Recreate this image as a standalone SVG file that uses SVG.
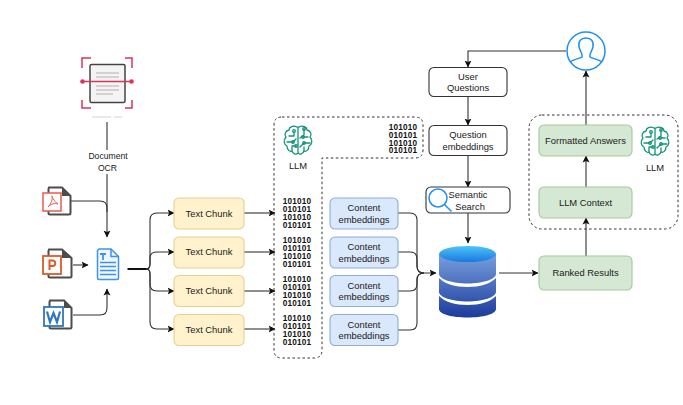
<svg xmlns="http://www.w3.org/2000/svg" width="683" height="405" viewBox="0 0 683 405">
<style>
text{font-family:"Liberation Sans",Arial,sans-serif;font-size:9.4px;fill:#1a1a1a;text-anchor:middle}
.small{font-size:8.600px}
.bin{font-size:8.200px;font-weight:bold;letter-spacing:.2px;fill:#111}
.box{rx:5px;ry:5px;stroke-width:1.1}
.chunk{fill:#fff2cc;stroke:#e8cf8e}
.emb{fill:#dae8fc;stroke:#8faed6}
.green{fill:#d5e8d4;stroke:#a5c99a}
.plain{fill:#fff;stroke:#333}
.c{fill:none;stroke:#333;stroke-width:1.1}
.dash{fill:none;stroke:#333;stroke-width:1;stroke-dasharray:2.5 2.5}
.brain{fill:none;stroke:#12937a;stroke-width:1.300;stroke-linejoin:round;stroke-linecap:round}
.sheet{fill:#fff;stroke:#4d4d4d;stroke-width:2}
</style>
<defs>
<marker id="a" markerWidth="8" markerHeight="8" refX="6.500" refY="4" orient="auto" markerUnits="userSpaceOnUse"><path d="M0 .5L7 4L0 7.500L1.600 4Z" fill="#111"/></marker>
<linearGradient id="dbTop" x1="0" y1="0" x2="0" y2="1"><stop offset="0" stop-color="#4cc4f7"/><stop offset="1" stop-color="#1a78e0"/></linearGradient>
<linearGradient id="dbBody" gradientUnits="userSpaceOnUse" x1="0" y1="250" x2="0" y2="318"><stop offset="0" stop-color="#7ea6e2"/><stop offset="1" stop-color="#1b3a9c"/></linearGradient>
<g id="brainIcon">
<path class="brain" d="M14 2C10 0 6 2 6 5C2 6 1 10 3 12C0 15 1 20 4 21C4 25 7 27 9 26C10 29 13 30 15 28V2M16 2C20 0 24 2 24 5C28 6 29 10 27 12C30 15 29 20 26 21C26 25 23 27 21 26C20 29 17 30 15 28"/>
<path class="brain" d="M6 11H11V7M4 17H10L13 14M9 26V21H13M21 4V10L17 13M25 12H20M27 18H21L17 22M21 26V22"/>
<g class="brain"><circle cx="11" cy="6" r="1.300"/><circle cx="10" cy="17" r="1.300"/><circle cx="13" cy="21" r="1.300"/><circle cx="21" cy="4" r="1.300"/><circle cx="20" cy="12" r="1.300"/><circle cx="21" cy="18" r="1.300"/></g>
</g>
</defs>

<g id="connectors">
<path class="c" d="M107 122V151M107 173V237" marker-end="url(#a)"/>
<path class="c" d="M71 201H100Q107 201 107 208V212"/>
<path class="c" d="M73 265H88" marker-end="url(#a)"/>
<path class="c" d="M73 315H100Q107 315 107 308V289" marker-end="url(#a)"/>
<path d="M127.500 269H147" fill="none" stroke="#111" stroke-width="2"/>
<path class="c" d="M146 269Q150 269 150 264V220Q150 213 157 213H174" marker-end="url(#a)"/>
<path class="c" d="M146 269Q150 269 150 264V258Q150 252 157 252H174" marker-end="url(#a)"/>
<path class="c" d="M146 269Q150 269 150 274V284Q150 291 157 291H174" marker-end="url(#a)"/>
<path class="c" d="M146 269Q150 269 150 274V322Q150 329 157 329H174" marker-end="url(#a)"/>
<path class="c" d="M244 213H275" marker-end="url(#a)"/>
<path class="c" d="M244 252H275" marker-end="url(#a)"/>
<path class="c" d="M244 291H275" marker-end="url(#a)"/>
<path class="c" d="M244 329H275" marker-end="url(#a)"/>
<path class="c" d="M398 213H410Q417 213 417 220V266Q417 273 424 273H436" marker-end="url(#a)"/>
<path class="c" d="M398 252H410Q417 252 417 259V266Q417 273 424 273"/>
<path class="c" d="M398 291H410Q417 291 417 284V280Q417 273 424 273"/>
<path class="c" d="M398 330H410Q417 330 417 323V280Q417 273 424 273"/>
<path class="c" d="M499 273H538" marker-end="url(#a)"/>
<path class="c" d="M566 51H468V67" marker-end="url(#a)"/>
<path class="c" d="M468 96V125" marker-end="url(#a)"/>
<path class="c" d="M468 155V187" marker-end="url(#a)"/>
<path class="c" d="M468 213V243" marker-end="url(#a)"/>
<path class="c" d="M586 256V218" marker-end="url(#a)"/>
<path class="c" d="M586 187V156" marker-end="url(#a)"/>
<path class="c" d="M586 125V71" marker-end="url(#a)"/>
</g>

<g id="ocr">
<path d="M82 68V58H91M125 58H132V68M82 100V108H91M125 108H132V100" fill="none" stroke="#d9355c" stroke-width="1.500"/>
<rect x="90" y="64.500" width="35" height="38" rx="1.500" fill="#f4f4f4" stroke="#444" stroke-width="1.500"/>
<path d="M96 73H119M96 77H119M96 86H119M96 90H119M96 94H113" stroke="#c6c6c6" stroke-width="1.500" fill="none"/>
<path d="M83 81.500H132" stroke="#d9355c" stroke-width="1.500"/>
<circle cx="82.500" cy="81.500" r="2.300" fill="#d9355c"/><circle cx="131.500" cy="81.500" r="2.300" fill="#d9355c"/>
<path d="M92 117H111M114 117H122" stroke="#e2e2e2" stroke-width="1.500"/>
<rect x="84" y="150" width="46" height="24" fill="#fff"/>
<text class="small" x="108" y="159">Document</text><text class="small" x="107.500" y="170.500">OCR</text>
</g>

<g id="pdf">
<path class="sheet" d="M49 187.500H62L70.500 196V213A1.500 1.500 0 0 1 69 214.500H50A1.500 1.500 0 0 1 48.500 213V189Z"/>
<path d="M62 187.500L70.500 196H62Z" fill="#4d4d4d"/>
<rect x="43" y="193" width="18" height="18" fill="#fff" stroke="#ea5a4e" stroke-width="1.500"/>
<path d="M48 207C51 204 53 199 52 196C51 195 55 203 58 204C55 203 50 204 48 207Z" fill="none" stroke="#ea5a4e" stroke-width="1"/>
</g>
<g id="ppt">
<path class="sheet" d="M49 249.500H62L71.500 258V276A1.500 1.500 0 0 1 70 277.500H50A1.500 1.500 0 0 1 48.500 276V251Z"/>
<path d="M62 249.500L71.500 258H62Z" fill="#4d4d4d"/>
<rect x="43" y="256" width="18" height="18" fill="#fff" stroke="#dd5a2b" stroke-width="1.800"/>
<path d="M49.500 270V260.500H53A2.800 2.800 0 0 1 53 266H49.500" fill="none" stroke="#dd5a2b" stroke-width="2"/>
</g>
<g id="word">
<path class="sheet" d="M50 300.500H64L71.500 308V327A1.500 1.500 0 0 1 70 328.500H51A1.500 1.500 0 0 1 49.500 327V302Z"/>
<path d="M64 300.500L71.500 308H64Z" fill="#4d4d4d"/>
<rect x="44" y="307" width="19" height="19" fill="#fff" stroke="#2f78bd" stroke-width="1.800"/>
<path d="M47 311.500L50 322L53.500 313L57 322L60 311.500" fill="none" stroke="#2f78bd" stroke-width="2.200"/>
</g>
<g id="document">
<path d="M99 249H111L118.500 256.500V278A1.500 1.500 0 0 1 117 279.500H99A1.500 1.500 0 0 1 97.500 278V250.500Z" fill="#f1f7ff" stroke="#3f93f0" stroke-width="1.500"/>
<path d="M111 249V256.500H118.500" fill="none" stroke="#3f93f0" stroke-width="1.500"/>
<path d="M100 254H106M103 254V260" fill="none" stroke="#3f93f0" stroke-width="1.800"/>
<path d="M100 262.500H116M100 266.500H116M100 270.500H116M100 274.500H116" fill="none" stroke="#3f93f0" stroke-width="1.500"/>
</g>

<g id="chunk1"><rect class="box chunk" x="174" y="198" width="70" height="31"/><text x="209" y="216.500">Text Chunk</text></g>
<g id="chunk2"><rect class="box chunk" x="174" y="237" width="70" height="31"/><text x="209" y="255">Text Chunk</text></g>
<g id="chunk3"><rect class="box chunk" x="174" y="275.500" width="70" height="31"/><text x="209" y="294">Text Chunk</text></g>
<g id="chunk4"><rect class="box chunk" x="174" y="314.500" width="70" height="31"/><text x="209" y="333">Text Chunk</text></g>

<g id="llm-panel">
<path class="dash" d="M282 117H415Q423 117 423 125V150Q423 158 415 158H322V350Q322 358 314 358H282Q274 358 274 350V125Q274 117 282 117Z"/>
<use href="#brainIcon" x="283" y="125"/>
<text x="298" y="169">LLM</text>
<text class="bin" x="403" y="130">101010</text><text class="bin" x="403" y="138">010101</text><text class="bin" x="403" y="145.500">101010</text><text class="bin" x="403" y="153">010101</text>
</g>
<g id="bits1"><text class="bin" x="297" y="204">101010</text><text class="bin" x="297" y="212">010101</text><text class="bin" x="297" y="219.500">101010</text><text class="bin" x="297" y="227.500">010101</text></g>
<g id="bits2"><text class="bin" x="297" y="243">101010</text><text class="bin" x="297" y="251">010101</text><text class="bin" x="297" y="258.500">101010</text><text class="bin" x="297" y="266.500">010101</text></g>
<g id="bits3"><text class="bin" x="297" y="282">101010</text><text class="bin" x="297" y="290">010101</text><text class="bin" x="297" y="297.500">101010</text><text class="bin" x="297" y="305.500">010101</text></g>
<g id="bits4"><text class="bin" x="297" y="321">101010</text><text class="bin" x="297" y="329">010101</text><text class="bin" x="297" y="336.500">101010</text><text class="bin" x="297" y="344.500">010101</text></g>

<g id="emb1"><rect class="box emb" x="330" y="198" width="68" height="31"/><text x="364" y="211">Content</text><text x="364" y="222.500">embeddings</text></g>
<g id="emb2"><rect class="box emb" x="330" y="237" width="68" height="31"/><text x="364" y="250">Content</text><text x="364" y="261.500">embeddings</text></g>
<g id="emb3"><rect class="box emb" x="330" y="275.500" width="68" height="31"/><text x="364" y="288.500">Content</text><text x="364" y="300">embeddings</text></g>
<g id="emb4"><rect class="box emb" x="330" y="314.500" width="68" height="31"/><text x="364" y="327.500">Content</text><text x="364" y="339">embeddings</text></g>

<g id="database">
<path d="M439 296V309C439 314 452 317.500 467.500 317.500S496 314 496 309V296C490 302 480 305 467.500 305S445 302 439 296Z" fill="url(#dbBody)"/>
<path d="M439 278V292C439 297 452 301.500 467.500 301.500S496 297 496 292V278C490 284 480 287 467.500 287S445 284 439 278Z" fill="url(#dbBody)"/>
<path d="M439 254V274C439 279 452 283.500 467.500 283.500S496 279 496 274V254Z" fill="url(#dbBody)"/>
<ellipse cx="467.500" cy="254" rx="28.500" ry="8" fill="url(#dbTop)"/>
</g>

<g id="user-questions"><rect class="box plain" x="429" y="67.500" width="78" height="29"/><text x="468" y="79.500">User</text><text x="468" y="91">Questions</text></g>
<g id="question-embeddings"><rect class="box plain" x="429" y="125.500" width="78" height="30"/><text x="468" y="138">Question</text><text x="468" y="150">embeddings</text></g>
<g id="semantic-search">
<rect class="box plain" x="426" y="187" width="84" height="26"/>
<circle cx="438" cy="198" r="9" fill="none" stroke="#1e90f0" stroke-width="1.500"/>
<path d="M444.500 204.500L451.500 211.500" stroke="#1e90f0" stroke-width="1.500"/>
<text x="468" y="198">Semantic</text><text x="470" y="209.500">Search</text>
</g>

<g id="user">
<circle cx="586" cy="51" r="19" fill="#fff" stroke="#1e90f0" stroke-width="1.500"/>
<path d="M570 62C574 59 579 59 582 57C583 54 580 51 579 47C578 41 581 38 586 38S594 41 593 47C592 51 589 54 590 57C593 59 598 59 602 62" fill="none" stroke="#1e90f0" stroke-width="1.500"/>
</g>

<g id="answer-panel">
<rect class="dash" x="529" y="115" width="149" height="114" rx="13"/>
<use href="#brainIcon" x="640" y="126"/>
<text x="655" y="171">LLM</text>
</g>
<g id="formatted-answers"><rect class="box green" x="539" y="125" width="93" height="31"/><text x="585.500" y="143.500">Formatted Answers</text></g>
<g id="llm-context"><rect class="box green" x="539" y="187" width="93" height="31"/><text x="585.500" y="205.500">LLM Context</text></g>
<g id="ranked-results"><rect class="box green" x="539" y="256" width="93" height="34"/><text x="585.500" y="276">Ranked Results</text></g>
</svg>
